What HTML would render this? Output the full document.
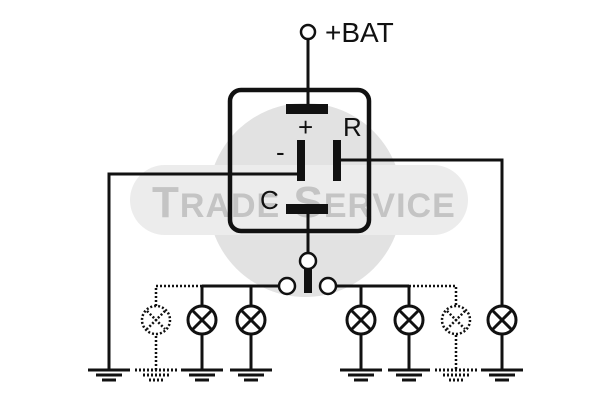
<!DOCTYPE html>
<html><head><style>body{margin:0;background:#fff}svg{display:block}</style></head><body>
<svg width="600" height="400" viewBox="0 0 600 400" xmlns="http://www.w3.org/2000/svg" font-family="Liberation Sans, sans-serif">
<circle cx="305" cy="200" r="97" fill="#e2e2e2"/>
<rect x="130" y="165" width="338" height="70" rx="35" fill="#ececec"/>
<text x="152" y="217" font-size="44" fill="#c4c4c4" font-weight="bold" letter-spacing="1">T<tspan font-size="34">RADE</tspan> S<tspan font-size="34">ERVICE</tspan></text>
<g stroke="#111" fill="none" stroke-width="3">
<line x1="308" y1="39" x2="308" y2="104"/>
<rect x="230" y="90" width="139" height="141" rx="11" stroke-width="4.5"/>
<polyline points="297,174 109,174 109,370"/>
<polyline points="341,160 502,160 502,370"/>
<line x1="308" y1="213" x2="308" y2="253"/>
<line x1="202" y1="286" x2="279" y2="286"/>
<line x1="336" y1="286" x2="409" y2="286"/>
<line x1="202" y1="286" x2="202" y2="370"/><line x1="251" y1="286" x2="251" y2="370"/>
<line x1="361" y1="286" x2="361" y2="370"/><line x1="409" y1="286" x2="409" y2="370"/>
<g stroke-dasharray="2,2" stroke-width="2.5">
<polyline points="156,370 156,286 202,286"/>
<polyline points="409,286 456,286 456,370"/>
<circle cx="156" cy="320" r="14" fill="#fff"/>
<circle cx="456" cy="320" r="14" fill="#fff"/>
<line x1="147" y1="311" x2="165" y2="329"/><line x1="165" y1="311" x2="147" y2="329"/>
<line x1="447" y1="311" x2="465" y2="329"/><line x1="465" y1="311" x2="447" y2="329"/>
</g>
</g>
<g stroke="#111" stroke-width="2.5" fill="#fff">
<circle cx="308" cy="32" r="7"/>
<circle cx="308" cy="261" r="8"/>
<circle cx="287" cy="286" r="8"/>
<circle cx="328" cy="286" r="8"/>
</g>
<rect x="304" y="269" width="8" height="24" fill="#111"/>
<g stroke="#111" stroke-width="3" fill="#fff">
<g id="l"><circle cx="202" cy="320" r="14"/><line x1="192" y1="310" x2="212" y2="330"/><line x1="212" y1="310" x2="192" y2="330"/></g>
<use href="#l" x="49"/><use href="#l" x="159"/><use href="#l" x="207"/><use href="#l" x="300"/>
</g>
<g stroke="#111" stroke-width="3">
<g id="g"><line x1="88" y1="370" x2="130" y2="370"/><line x1="96" y1="375" x2="122" y2="375"/><line x1="102" y1="380" x2="116" y2="380"/></g>
<use href="#g" x="93"/><use href="#g" x="142"/><use href="#g" x="252"/><use href="#g" x="300"/><use href="#g" x="393"/>
<g stroke-dasharray="2,2"><use href="#g" x="47"/><use href="#g" x="347"/></g>
</g>
<g fill="#111">
<rect x="286" y="104" width="42" height="10"/>
<rect x="297" y="140" width="8" height="41"/>
<rect x="333" y="140" width="8" height="41"/>
<rect x="286" y="204" width="42" height="10"/>
</g>
<g fill="#111" font-size="26">
<text x="325" y="42" font-size="28">+BAT</text>
<text x="298" y="136">+</text>
<text x="343" y="136">R</text>
<text x="276" y="161">-</text>
<text x="260" y="209">C</text>
</g>
</svg>
</body></html>
